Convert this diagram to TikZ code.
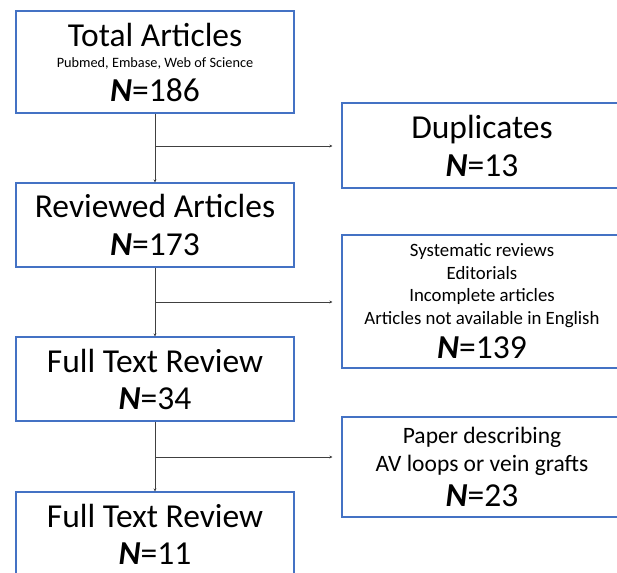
\documentclass[tikz,border=0pt]{standalone}
\usepackage{fontspec}
\setmainfont{Carlito}
\usetikzlibrary{arrows.meta}
\setlength{\lineskiplimit}{-100pt}

\tikzset{every picture/.style={line width=0.75pt}}
\tikzset{
  stagebox/.style={draw={rgb,255:red,68;green,114;blue,196}, line width=1.2pt, inner sep=0pt, align=center,
    minimum width=278, minimum height=84, font=\fontsize{33.5}{38}\selectfont},
  dropbox/.style={stagebox, minimum width=280},
  flow/.style={draw={rgb,255:red,64;green,64;blue,64}, line width=1pt, -{Stealth[length=3pt,width=3pt]}},
}
\newcommand{\Nval}[1]{\textbf{\textit{N}}=#1}
\newcommand{\Nbig}[1]{{\fontsize{33.5}{38}\selectfont\Nval{#1}}}

\begin{document}
\begin{tikzpicture}[x=1pt,y=1pt,yscale=-1,xscale=1]
	%set diagram to the size of the figure, boxes run off the right and bottom edges
	\useasboundingbox (0,0) rectangle (617,572);
	\fill[white] (0,0) rectangle (617,572);
	\clip (0,0) rectangle (617,572);
	
	%Stages on the left
	\node[stagebox, minimum height=102, font=\fontsize{33.5}{21}\selectfont] (total) at (155,62)
	  {Total Articles\\{\fontsize{14.3}{16}\selectfont Pubmed, Embase, Web of Science}\\[13pt]\Nval{186}};
	\node[stagebox] (reviewed) at (155,225) {Reviewed Articles\\\Nval{173}};
	\node[stagebox, font=\fontsize{33.5}{37}\selectfont] (fulltext) at (155,379) {Full Text Review\\\Nval{34}};
	\node[stagebox, font=\fontsize{33.5}{37}\selectfont] (included) at (155,534) {Full Text Review\\\Nval{11}};
	
	%Excluded articles on the right
	\node[dropbox, minimum height=85] (dup) at (482,145.5) {Duplicates\\\Nval{13}};
	\node[dropbox, minimum height=133, font=\fontsize{18.8}{22.5}\selectfont] (excl) at (482,301.5)
	  {Systematic reviews\\Editorials\\Incomplete articles\\Articles not available in English\\[12pt]\Nbig{139}};
	\node[dropbox, minimum height=100, font=\fontsize{23.5}{28}\selectfont] (avloop) at (482,467)
	  {Paper describing\\AV loops or vein grafts\\[7pt]\Nbig{23}};
	
	%Split points
	\coordinate (split1) at (155,146);
	\coordinate (split2) at (155,302);
	\coordinate (split3) at (155,457);
	
	\draw[flow] (total) -- (reviewed);
	\draw[flow] (reviewed) -- (fulltext);
	\draw[flow] (fulltext) -- (included);
	\draw[flow, shorten >=9pt] (split1) -- (split1 -| dup.west);
	\draw[flow, shorten >=9pt] (split2) -- (split2 -| excl.west);
	\draw[flow, shorten >=9pt] (split3) -- (split3 -| avloop.west);
	
\end{tikzpicture}
\end{document}
